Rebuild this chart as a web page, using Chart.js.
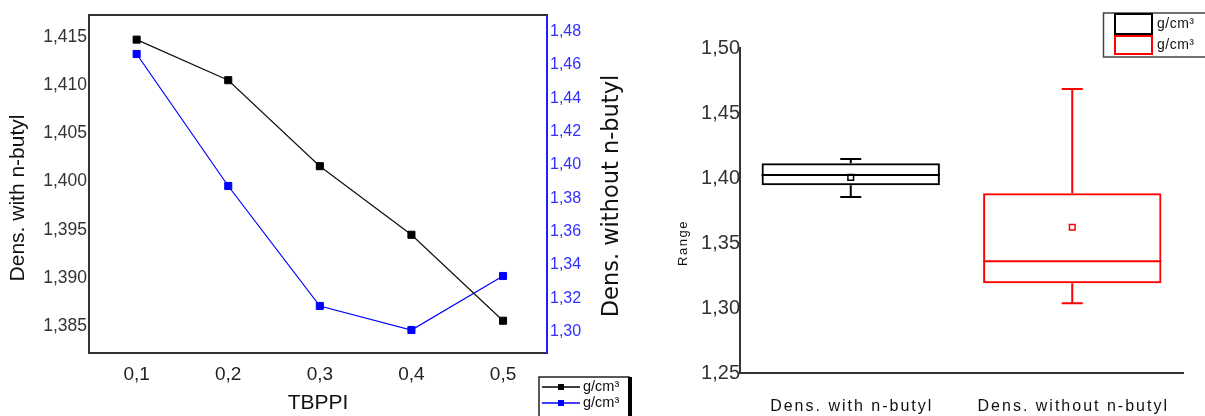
<!DOCTYPE html>
<html>
<head>
<meta charset="utf-8">
<script src="https://cdn.jsdelivr.net/npm/chart.js@4.4.1/dist/chart.umd.min.js"></script>
<style>
  body { margin: 0; background: #fff; }
  #wrap { position: relative; width: 1205px; height: 416px; overflow: hidden; }
  #left { position: absolute; left: 0; top: 0; }
  #right { position: absolute; left: 640px; top: 0; }
</style>
</head>
<body>
<div id="wrap">
  <canvas id="left" width="640" height="416"></canvas>
  <canvas id="right" width="565" height="416"></canvas>
</div>
<script>
// line chart data (left)
var tbppi = [0.1, 0.2, 0.3, 0.4, 0.5];
var densWithButyl = [1.4147, 1.4105, 1.4016, 1.3945, 1.3856];
var densWithoutButyl = [1.4666, 1.3874, 1.3154, 1.3010, 1.3334];
var xTicks = [0.1, 0.2, 0.3, 0.4, 0.5];
var leftTicks = [1.385, 1.390, 1.395, 1.400, 1.405, 1.410, 1.415];
var rightTicks = [1.30, 1.32, 1.34, 1.36, 1.38, 1.40, 1.42, 1.44, 1.46, 1.48];
var legendLabels = ['g/cm³', 'g/cm³'];

// box chart data (right)
var boxCategories = ['Dens. with n-butyl', 'Dens. without n-butyl'];
var boxQ1 = [1.3944, 1.3190];
var boxQ3 = [1.4113, 1.3882];
var boxMedian = [1.4023, 1.3359];
var boxMean = [1.4005, 1.3621];
var whiskerLow = [1.3854, 1.3036];
var whiskerHigh = [1.4146, 1.4685];
var rangeTicks = [1.25, 1.30, 1.35, 1.40, 1.45, 1.50];
var boxColors = ['#000000', '#ff0000'];

var FONT = "'Liberation Sans', Arial, sans-serif";
Chart.defaults.font.family = FONT;
Chart.defaults.color = '#222';

function comma(v, d) {
	return Number(v).toFixed(d).replace('.', ',');
}

// frame, y titles and legend of the left chart
var leftExtras = {
	id: 'leftExtras',
	afterDraw: function(chart) {
		var ctx = chart.ctx;
		var a = chart.chartArea;
		ctx.save();
		ctx.strokeStyle = '#333';
		ctx.lineWidth = 2;
		ctx.beginPath();
		ctx.moveTo(a.left - 1, a.top);
		ctx.lineTo(a.right, a.top);
		ctx.stroke();

		// y titles, both read bottom to top
		ctx.fillStyle = '#111';
		ctx.textAlign = 'center';
		ctx.textBaseline = 'middle';
		ctx.save();
		ctx.translate(18, 198);
		ctx.rotate(-Math.PI / 2);
		ctx.font = "21px " + FONT;
		ctx.fillText('Dens. with n-butyl', 0, 0);
		ctx.restore();
		ctx.save();
		ctx.translate(612, 196);
		ctx.rotate(-Math.PI / 2);
		ctx.font = "22.5px 'DejaVu Sans', sans-serif";
		ctx.fillText('Dens. without n-butyl', 0, 0);
		ctx.restore();

		// legend box
		ctx.strokeStyle = '#222';
		ctx.lineWidth = 1.5;
		ctx.strokeRect(539, 377, 90, 50);
		ctx.fillStyle = '#000';
		ctx.fillRect(628, 377, 4, 50);
		var colors = ['#000000', '#0000ff'];
		ctx.font = "14.5px " + FONT;
		ctx.textAlign = 'left';
		for (var i = 0; i < 2; i++) {
			var y = 387 + i * 16;
			ctx.strokeStyle = colors[i];
			ctx.lineWidth = 1.3;
			ctx.beginPath();
			ctx.moveTo(542, y);
			ctx.lineTo(580, y);
			ctx.stroke();
			ctx.fillStyle = colors[i];
			ctx.fillRect(558, y - 3, 6, 6);
			ctx.fillStyle = '#111';
			ctx.fillText(legendLabels[i], 583, y);
		}
		ctx.restore();
	}
};

new Chart(document.getElementById('left').getContext('2d'), {
	type: 'line',
	data: {
		datasets: [{
			label: legendLabels[0],
			data: tbppi.map(function(x, i) { return {x: x, y: densWithButyl[i]}; }),
			yAxisID: 'y',
			borderColor: '#111',
			backgroundColor: '#000',
			borderWidth: 1.2,
			pointStyle: 'rect',
			pointRadius: 5,
			pointBorderWidth: 1,
			pointBorderColor: '#000'
		}, {
			label: legendLabels[1],
			data: tbppi.map(function(x, i) { return {x: x, y: densWithoutButyl[i]}; }),
			yAxisID: 'y1',
			borderColor: '#0000ff',
			backgroundColor: '#0000ff',
			borderWidth: 1.2,
			pointStyle: 'rect',
			pointRadius: 5,
			pointBorderWidth: 1,
			pointBorderColor: '#0000ff'
		}]
	},
	options: {
		responsive: false,
		animation: false,
		layout: { padding: { top: 15 } },
		plugins: { legend: { display: false }, tooltip: { enabled: false } },
		scales: {
			x: {
				type: 'linear',
				min: 0.048,
				max: 0.548,
				grid: { display: false, drawTicks: false },
				border: { display: true, color: '#333', width: 2 },
				afterBuildTicks: function(axis) { axis.ticks = xTicks.map(function(v) { return {value: v}; }); },
				afterFit: function(s) { s.height = 63; },
				ticks: {
					padding: 10,
					font: { size: 19 },
					color: '#222',
					callback: function(v) { return comma(v, 1); }
				},
				title: {
					display: true,
					text: 'TBPPI',
					font: { size: 21 },
					color: '#111',
					padding: { top: 0, bottom: 0 }
				}
			},
			y: {
				position: 'left',
				min: 1.38226,
				max: 1.41725,
				grid: { display: false, drawTicks: false },
				border: { display: true, color: '#333', width: 2 },
				afterBuildTicks: function(axis) { axis.ticks = leftTicks.map(function(v) { return {value: v}; }); },
				afterFit: function(s) { s.width = 89; },
				ticks: {
					padding: 2,
					font: { size: 17.5 },
					color: '#333',
					callback: function(v) { return comma(v, 3); }
				}
			},
			y1: {
				position: 'right',
				min: 1.2872,
				max: 1.4900,
				grid: { display: false, drawTicks: false },
				border: { display: true, color: '#2020ff', width: 2 },
				afterBuildTicks: function(axis) { axis.ticks = rightTicks.map(function(v) { return {value: v}; }); },
				afterFit: function(s) { s.width = 93; },
				ticks: {
					padding: 3,
					font: { size: 16 },
					color: '#3030ff',
					callback: function(v) { return comma(v, 2); }
				}
			}
		}
	},
	plugins: [leftExtras]
});

// whiskers, medians, category labels, title and legend of the box chart
var boxExtras = {
	id: 'boxExtras',
	afterDatasetsDraw: function(chart) {
		var ctx = chart.ctx;
		var ys = chart.scales.y;
		var bars = chart.getDatasetMeta(1).data;
		ctx.save();
		ctx.lineWidth = 2;
		for (var i = 0; i < bars.length; i++) {
			var b = bars[i];
			var half = b.width / 2;
			ctx.strokeStyle = boxColors[i];
			ctx.beginPath();
			ctx.moveTo(b.x - half, ys.getPixelForValue(boxMedian[i]));
			ctx.lineTo(b.x + half, ys.getPixelForValue(boxMedian[i]));
			// upper whisker
			ctx.moveTo(b.x, ys.getPixelForValue(boxQ3[i]));
			ctx.lineTo(b.x, ys.getPixelForValue(whiskerHigh[i]));
			ctx.moveTo(b.x - 10.5, ys.getPixelForValue(whiskerHigh[i]));
			ctx.lineTo(b.x + 10.5, ys.getPixelForValue(whiskerHigh[i]));
			// lower whisker
			ctx.moveTo(b.x, ys.getPixelForValue(boxQ1[i]));
			ctx.lineTo(b.x, ys.getPixelForValue(whiskerLow[i]));
			ctx.moveTo(b.x - 10.5, ys.getPixelForValue(whiskerLow[i]));
			ctx.lineTo(b.x + 10.5, ys.getPixelForValue(whiskerLow[i]));
			ctx.stroke();
		}
		ctx.restore();
	},
	afterDraw: function(chart) {
		var ctx = chart.ctx;
		var xs = chart.scales.x;
		ctx.save();
		ctx.fillStyle = '#111';
		ctx.textAlign = 'center';
		ctx.textBaseline = 'middle';
		ctx.letterSpacing = '2px';
		ctx.font = "16px " + FONT;
		for (var i = 0; i < boxCategories.length; i++) {
			ctx.fillText(boxCategories[i], xs.getPixelForTick(i) + 1, 407);
		}
		ctx.letterSpacing = '1.5px';
		ctx.font = "13px " + FONT;
		ctx.save();
		ctx.translate(43, 243);
		ctx.rotate(-Math.PI / 2);
		ctx.fillText('Range', 0, 0);
		ctx.restore();

		// legend
		ctx.letterSpacing = '0px';
		ctx.strokeStyle = '#444';
		ctx.lineWidth = 1.5;
		ctx.strokeRect(463.5, 13, 120, 44);
		ctx.lineWidth = 2;
		ctx.strokeStyle = boxColors[0];
		ctx.strokeRect(475, 14, 37, 20);
		ctx.strokeStyle = boxColors[1];
		ctx.strokeRect(475, 36, 37, 18);
		ctx.font = "14px " + FONT;
		ctx.textAlign = 'left';
		ctx.letterSpacing = '0.5px';
		ctx.fillText(legendLabels[0], 517, 24);
		ctx.fillText(legendLabels[1], 517, 45);
		ctx.restore();
	}
};

new Chart(document.getElementById('right').getContext('2d'), {
	type: 'bar',
	data: {
		labels: boxCategories,
		datasets: [{
			type: 'line',
			label: 'mean',
			data: boxMean,
			showLine: false,
			pointStyle: 'rect',
			pointRadius: 4,
			pointBorderWidth: 1.5,
			pointBorderColor: boxColors,
			pointBackgroundColor: '#fff'
		}, {
			label: 'box',
			data: boxQ1.map(function(q, i) { return [q, boxQ3[i]]; }),
			backgroundColor: 'rgba(0,0,0,0)',
			borderColor: boxColors,
			borderWidth: 2,
			borderSkipped: false,
			barPercentage: 0.805,
			categoryPercentage: 1
		}]
	},
	options: {
		responsive: false,
		animation: false,
		layout: { padding: { top: 48, right: 22 } },
		plugins: { legend: { display: false }, tooltip: { enabled: false } },
		scales: {
			x: {
				grid: { display: false, drawTicks: false },
				border: { display: true, color: '#333', width: 2 },
				ticks: { display: false },
				afterFit: function(s) { s.height = 43; }
			},
			y: {
				min: 1.25,
				max: 1.50,
				grid: { display: false, drawTicks: false },
				border: { display: true, color: '#333', width: 2 },
				afterBuildTicks: function(axis) { axis.ticks = rangeTicks.map(function(v) { return {value: v}; }); },
				afterFit: function(s) { s.width = 100; },
				ticks: {
					padding: 0,
					font: { size: 20 },
					color: '#333',
					callback: function(v) { return comma(v, 2); }
				}
			}
		}
	},
	plugins: [boxExtras]
});
</script>
</body>
</html>
